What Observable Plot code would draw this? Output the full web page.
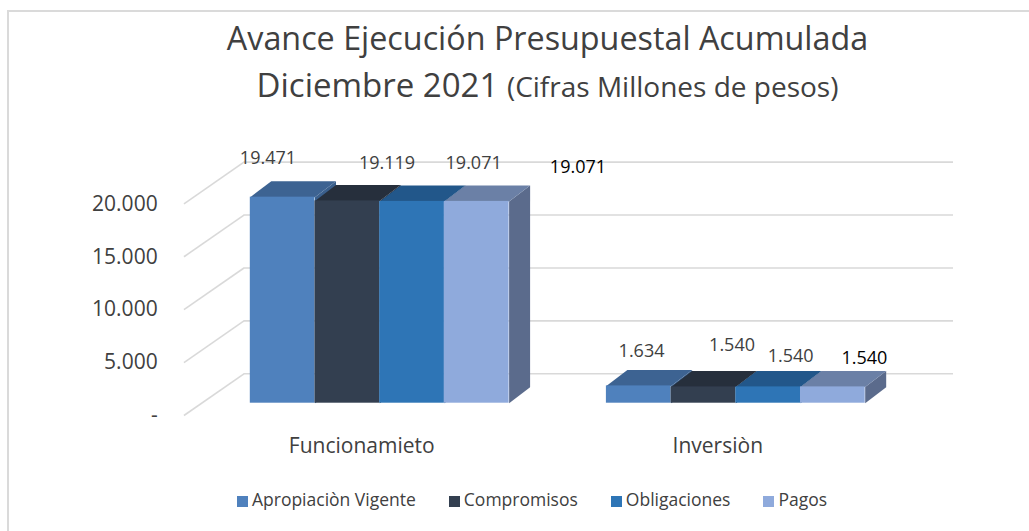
<!DOCTYPE html>
<html>
<head>
<meta charset="utf-8">
<script src="https://cdn.jsdelivr.net/npm/d3@7"></script>
<script src="https://cdn.jsdelivr.net/npm/@observablehq/plot@0.6"></script>
<style>
  html, body { margin: 0; padding: 0; background: #fff; }
  #wrap { position: relative; width: 1029px; height: 531px; overflow: hidden; font-family: 'Open Sans', sans-serif; color: #404040; }
  #frame { position: absolute; left: 7px; top: 10px; width: 1100px; height: 600px; border-left: 2px solid #dadada; border-top: 2px solid #dadada; }
  #chart { position: absolute; left: 0; top: 0; }
  .t { position: absolute; left: 0; width: 1095px; text-align: center; line-height: 1; white-space: nowrap; }
  #legend { position: absolute; left: 0; width: 1064px; top: 491px; display: flex; justify-content: center; gap: 33px; font-size: 17.5px; line-height: 1; }
  #legend .item { display: flex; align-items: center; white-space: nowrap; }
  #legend .sw { width: 11px; height: 11px; margin-right: 4px; position: relative; top: 2px; }
</style>
</head>
<body>
<div id="wrap">
  <div id="frame"></div>
  <div id="chart"></div>
  <div class="t" style="top:21px;font-size:32.3px;">Avance Ejecución Presupuestal Acumulada</div>
  <div class="t" style="top:67.5px;font-size:33px;">Diciembre 2021 <span style="font-size:28px;">(Cifras Millones de pesos)</span></div>
  <div id="legend"></div>
</div>
<script>
// ---- data ----
const categories = ["Funcionamieto", "Inversiòn"];
const series = ["Apropiaciòn Vigente", "Compromisos", "Obligaciones", "Pagos"];
const funcionamiento = [19471, 19119, 19071, 19071];
const inversion = [1634, 1540, 1540, 1540];
const yTicks = [0, 5000, 10000, 15000, 20000];

// ---- styles ----
const frontColors = ["#4f81bd", "#333f50", "#2e75b6", "#8faadc"];
const topColors = ["#3d6392", "#262f3c", "#22578a", "#6b80a6"];
const sideColors = ["#3a5f8c", "#232b37", "#205282", "#5b6b8c"];
const labelColors = ["#404040", "#404040", "#404040", "#000000"];
// pixel nudges of the value labels (from the bar's front-top centre)
const labelNudge = [
  [[-14.7, -38.7], [39.7, -37.7], [61.6, -38.2], [101.2, -34.2]],
  [[2.8, -34.9], [28.6, -41.9], [22.5, -31.1], [31.5, -28.4]]
];

// ---- geometry (pixels -> data units) ----
const xRange = [379.2, 735.3];
const yRange = [402.7, 191.06];
const PXX = xRange[1] - xRange[0];            // px per category unit
const PXY = (yRange[0] - yRange[1]) / 20000;  // px per value unit
const BW = 64.7 / PXX;                         // bar width
const DX = 21 / PXX, DY = 16 / PXY;            // bar depth
const wallLeft = -0.5, wallRight = 1.4926;
const backDX = 42.3, backDY = 29.4, frontDX = 17.7, frontDY = 12.3;

const fmt = d => d === 0 ? "-" : d3.format(",")(d).replace(/,/g, ".");

const values = [funcionamiento, inversion];
const bars = categories.flatMap((c, i) => series.map((s, j) => ({
  i, j, c, s, v: values[i][j],
  l: i - 2 * BW + j * BW,
  r: i - 2 * BW + (j + 1) * BW
})));

const sides = bars.flatMap(b => [[b.r, 0], [b.r + DX, DY], [b.r + DX, b.v + DY], [b.r, b.v]]
  .map(([x, y]) => ({x, y, id: `s${b.i}${b.j}`, fill: sideColors[b.j]})));
const tops = bars.flatMap(b => [[b.l, b.v], [b.r, b.v], [b.r + DX, b.v + DY], [b.l + DX, b.v + DY]]
  .map(([x, y]) => ({x, y, id: `t${b.i}${b.j}`, fill: topColors[b.j]})));

const chart = Plot.plot({
  width: 1029,
  height: 531,
  margin: 0,
  x: {domain: [0, 1], range: xRange, axis: null},
  y: {domain: [0, 20000], range: yRange, axis: null},
  color: {type: "identity"},
  style: {fontFamily: "'Open Sans', sans-serif", background: "transparent", overflow: "visible", color: "#404040"},
  marks: [
    // back wall gridlines
    Plot.ruleY(yTicks, {y: d => d, x1: () => wallLeft, x2: () => wallRight, dx: backDX, dy: -backDY, stroke: "#d9d9d9", strokeWidth: 1.6}),
    // side wall diagonals
    Plot.link(yTicks, {
      x1: () => wallLeft - frontDX / PXX, y1: d => d - frontDY / PXY,
      x2: () => wallLeft + backDX / PXX, y2: d => d + backDY / PXY,
      stroke: "#d9d9d9", strokeWidth: 1.6
    }),
    // y tick labels
    Plot.text(yTicks, {
      x: () => wallLeft - (frontDX + 26.3) / PXX, y: d => d - frontDY / PXY,
      text: fmt, textAnchor: "end", fontSize: 21, fill: "#404040"
    }),
    // bars: sides, tops, fronts
    Plot.line(sides, {x: "x", y: "y", z: "id", fill: "fill", stroke: "none"}),
    Plot.line(tops, {x: "x", y: "y", z: "id", fill: "fill", stroke: "none"}),
    Plot.rect(bars, {x1: "l", x2: "r", y1: () => 0, y2: "v", fill: b => frontColors[b.j]}),
    // value labels
    Plot.text(bars, {
      x: b => (b.l + b.r) / 2 + labelNudge[b.i][b.j][0] / PXX,
      y: b => b.v - labelNudge[b.i][b.j][1] / PXY,
      text: b => fmt(b.v), fill: b => labelColors[b.j], fontSize: 18
    }),
    // category labels
    Plot.text(categories, {
      x: (d, i) => i - 18 / PXX, y: () => -42.8 / PXY,
      text: d => d, fontSize: 21, fill: "#404040"
    })
  ]
});
document.getElementById("chart").appendChild(chart);

const legend = document.getElementById("legend");
series.forEach((s, j) => {
  const item = document.createElement("div");
  item.className = "item";
  const sw = document.createElement("span");
  sw.className = "sw";
  sw.style.background = frontColors[j];
  const tx = document.createElement("span");
  tx.textContent = s;
  item.appendChild(sw);
  item.appendChild(tx);
  legend.appendChild(item);
});
</script>
</body>
</html>
